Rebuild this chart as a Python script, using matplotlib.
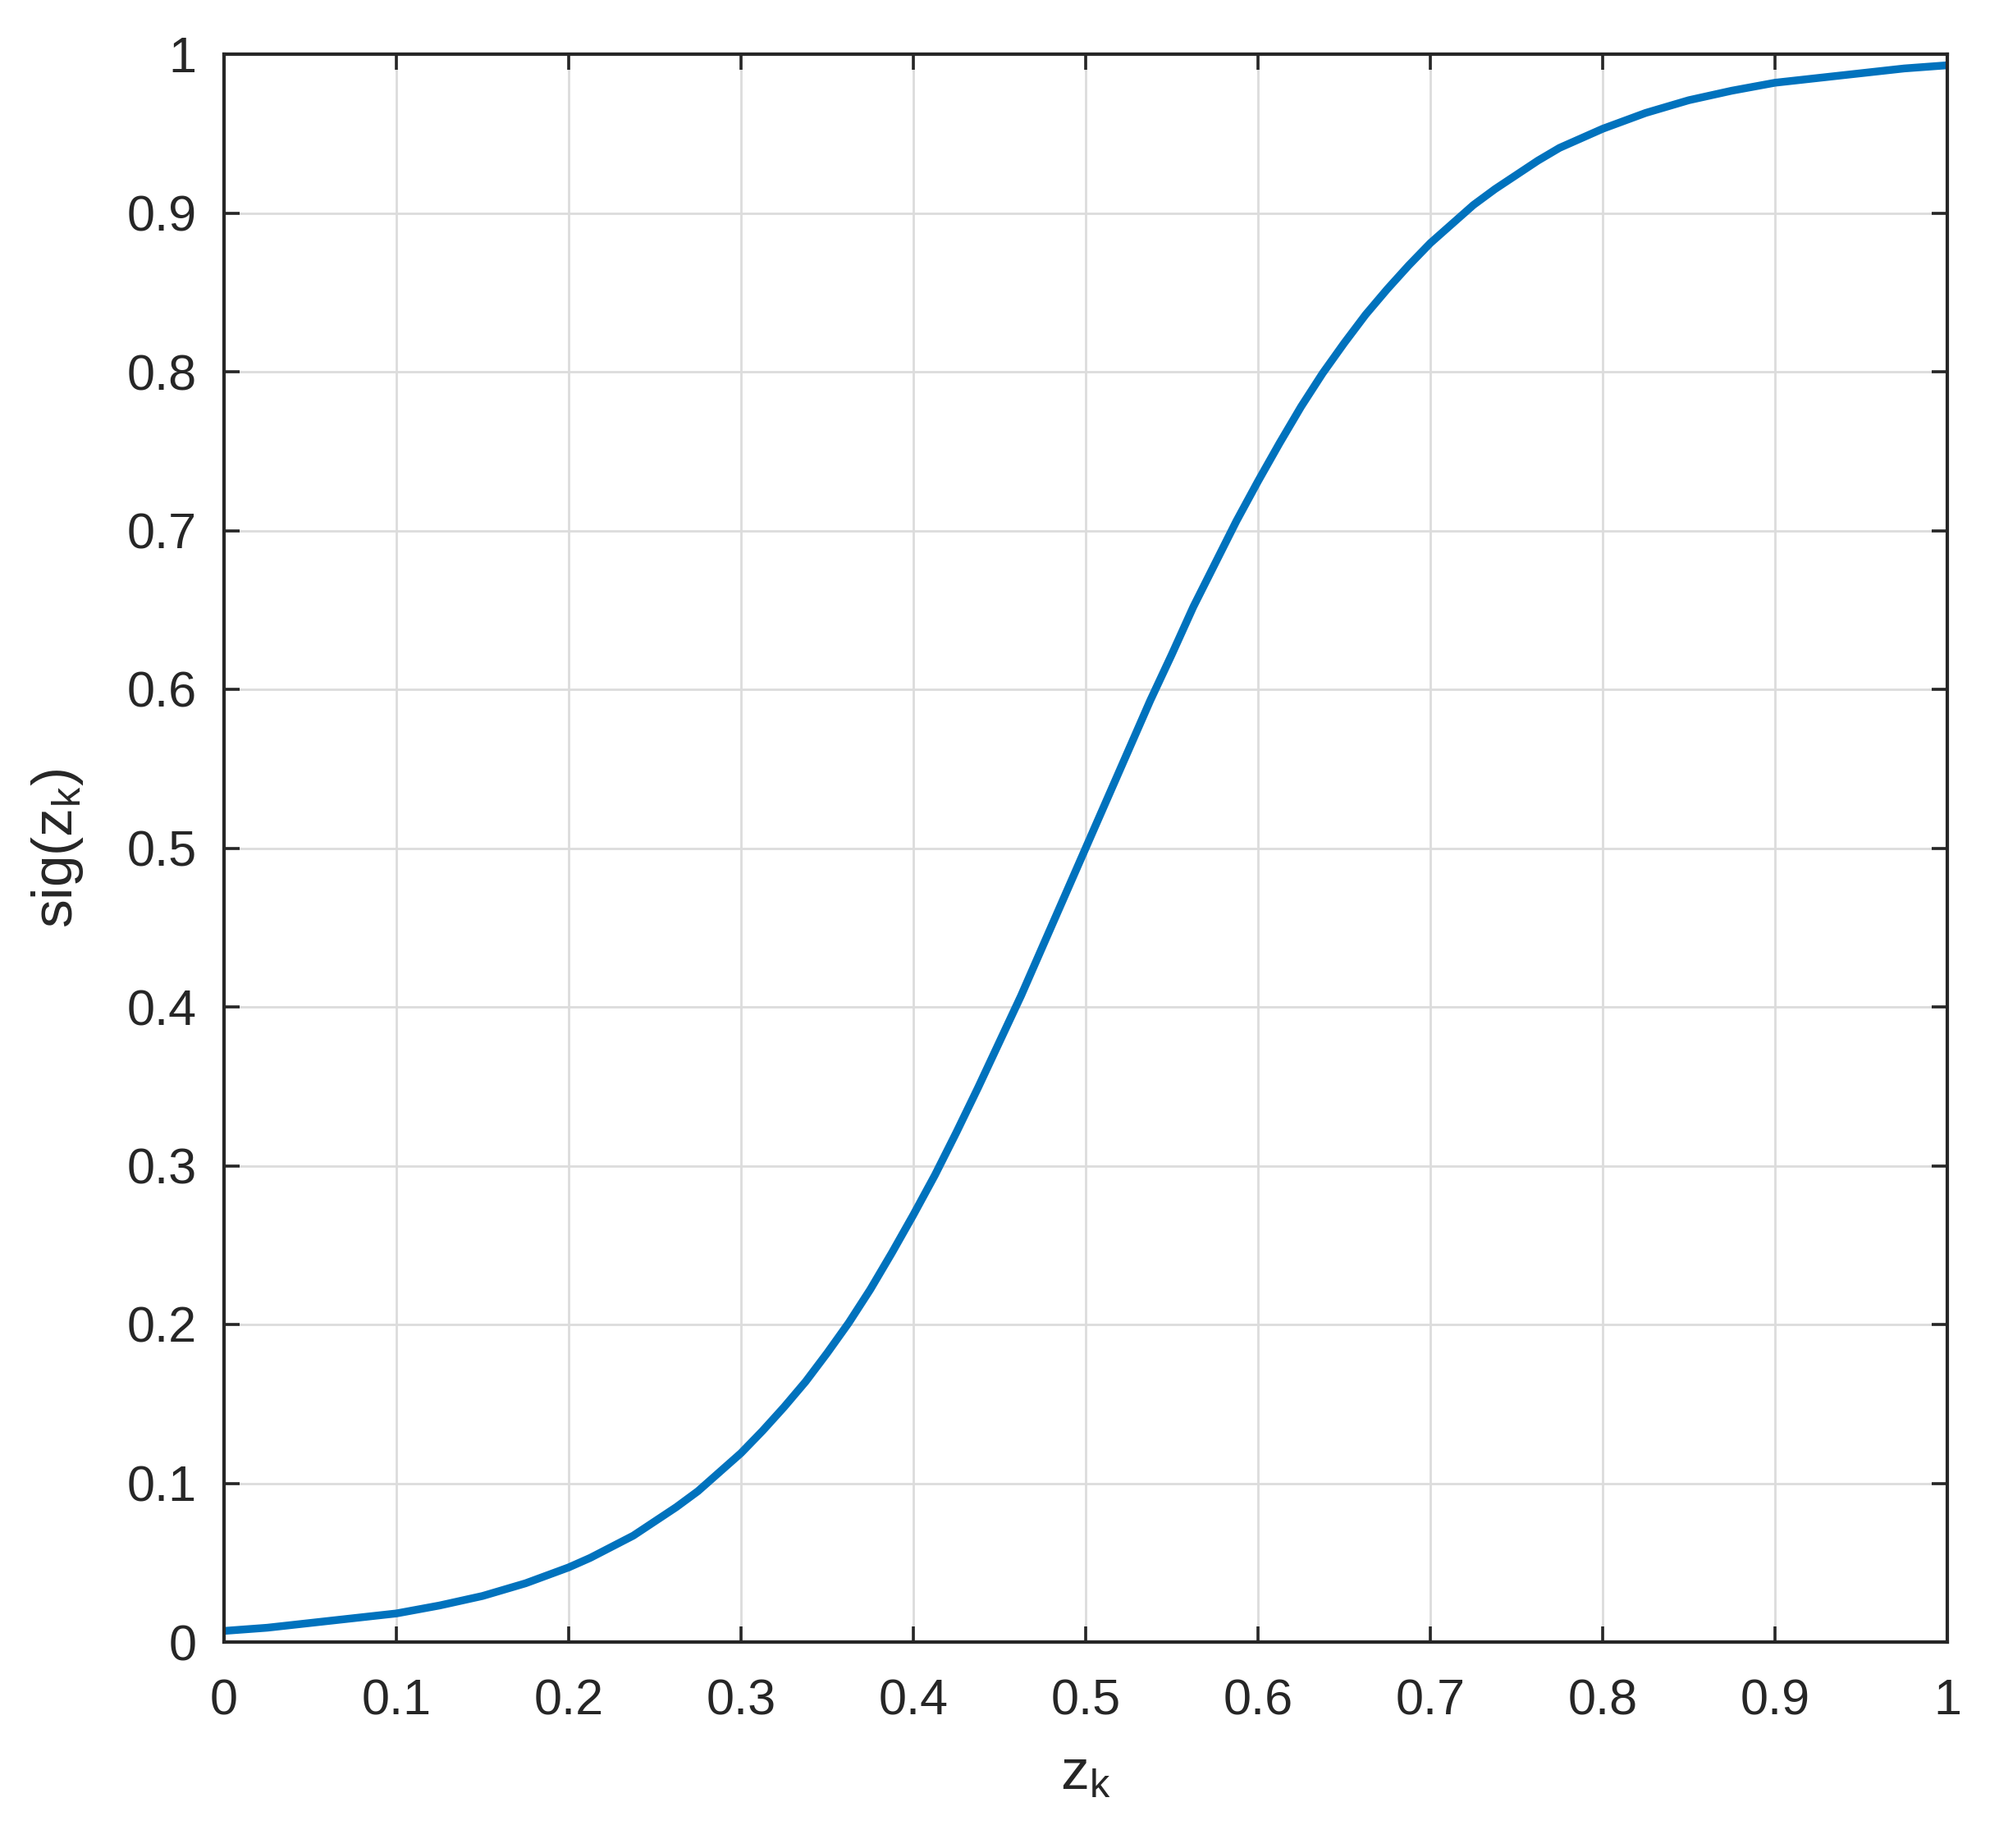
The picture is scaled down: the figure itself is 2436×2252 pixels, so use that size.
import matplotlib
matplotlib.use('Agg')
import matplotlib.pyplot as plt
import numpy as np

plt.rcParams['font.family'] = ['Liberation Sans', 'DejaVu Sans']
plt.rcParams['mathtext.fontset'] = 'custom'
plt.rcParams['mathtext.rm'] = 'Liberation Sans'
plt.rcParams['mathtext.it'] = 'Liberation Sans'

# values
z_k = [0.0, 0.025, 0.05, 0.075, 0.1, 0.125, 0.15, 0.175, 0.2, 0.2125, 0.225, 0.2375,
       0.25, 0.2625, 0.275, 0.2875, 0.3, 0.3125, 0.325, 0.3375, 0.35, 0.3625,
       0.375, 0.3875, 0.4, 0.4125, 0.425, 0.4375, 0.45, 0.4625, 0.475, 0.4875,
       0.5, 0.5125, 0.525, 0.5375, 0.55, 0.5625, 0.575, 0.5875, 0.6, 0.6125,
       0.625, 0.6375, 0.65, 0.6625, 0.675, 0.6875, 0.7, 0.7125, 0.725, 0.7375,
       0.75, 0.7625, 0.775, 0.7875, 0.8, 0.825, 0.85, 0.875, 0.9, 0.925, 0.95,
       0.975, 1.0]
sig = [0.007, 0.009, 0.012, 0.015, 0.018, 0.023, 0.029, 0.037, 0.047, 0.053, 0.060, 0.067,
       0.076, 0.085, 0.095, 0.107, 0.119, 0.133, 0.148, 0.164, 0.182, 0.201,
       0.222, 0.245, 0.269, 0.294, 0.321, 0.349, 0.378, 0.407, 0.438, 0.469,
       0.500, 0.531, 0.562, 0.593, 0.622, 0.652, 0.679, 0.706, 0.731, 0.755,
       0.778, 0.799, 0.818, 0.836, 0.852, 0.867, 0.881, 0.893, 0.905, 0.915,
       0.924, 0.933, 0.941, 0.947, 0.953, 0.963, 0.971, 0.977, 0.982, 0.985, 0.988,
       0.991, 0.993]

ticks = np.round(np.arange(0, 1.01, 0.1), 1)
tick_labels = ['0', '0.1', '0.2', '0.3', '0.4', '0.5', '0.6', '0.7', '0.8', '0.9', '1']

fig = plt.figure(figsize=(12.18, 11.26), dpi=200)
ax = fig.add_axes([273/2436, 1 - 2001/2252, 2100/2436, 1935/2252])

ax.plot(z_k, sig, color='#0072BD', linewidth=3.4, solid_joinstyle='round')

ax.set_xlim(0, 1)
ax.set_ylim(0, 1)
ax.set_xticks(ticks)
ax.set_xticklabels(tick_labels)
ax.set_yticks(ticks)
ax.set_yticklabels(tick_labels)

ax.grid(True, color='#dcdcdc', linewidth=1.0)
ax.set_axisbelow(True)
ax.tick_params(direction='in', length=7, width=1.3, top=True, right=True,
               labelsize=22, colors='#262626')
ax.tick_params(axis='x', pad=16)
ax.tick_params(axis='y', pad=12)
for s in ax.spines.values():
    s.set_linewidth(1.5)
    s.set_color('#262626')

ax.set_xlabel(r'z$_\mathregular{k}$', fontsize=25, color='#262626', labelpad=10)
ax.set_ylabel(r'sig(z$_\mathregular{k}$)', fontsize=25, color='#262626', labelpad=18)

fig.savefig('out.png', dpi=200)
